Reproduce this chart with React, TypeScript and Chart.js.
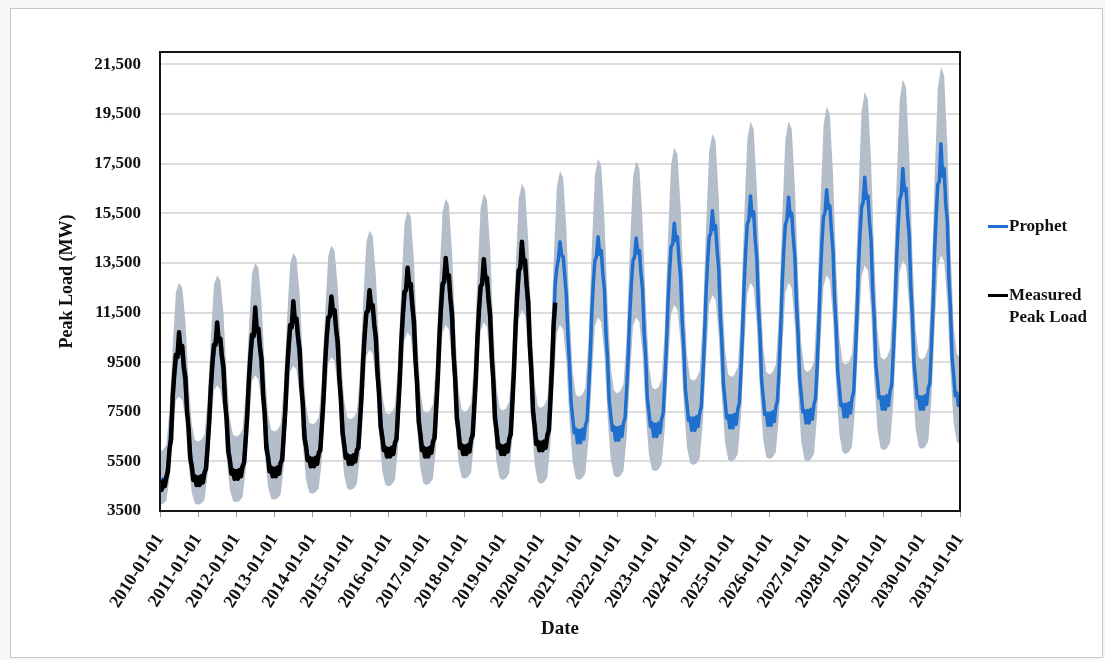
import React, { useEffect, useRef } from 'react';
import { Chart, registerables } from 'chart.js';

Chart.register(...registerables);

// ---------------- DATA ----------------
const START_YEAR = 2010;
const LINE_SAMPLES_PER_YEAR = 24; // half-monthly samples
const BAND_SAMPLES_PER_YEAR = 12; // monthly samples

const X_TICK_YEARS = [2010, 2011, 2012, 2013, 2014, 2015, 2016, 2017, 2018, 2019, 2020,
  2021, 2022, 2023, 2024, 2025, 2026, 2027, 2028, 2029, 2030, 2031];
const X_TICK_LABELS = ['2010-01-01', '2011-01-01', '2012-01-01', '2013-01-01', '2014-01-01',
  '2015-01-01', '2016-01-01', '2017-01-01', '2018-01-01', '2019-01-01', '2020-01-01',
  '2021-01-01', '2022-01-01', '2023-01-01', '2024-01-01', '2025-01-01', '2026-01-01',
  '2027-01-01', '2028-01-01', '2029-01-01', '2030-01-01', '2031-01-01'];

const Y_TICK_VALUES = [3500, 5500, 7500, 9500, 11500, 13500, 15500, 17500, 19500, 21500];
const Y_TICK_LABELS = ['3500', '5500', '7500', '9500', '11,500', '13,500', '15,500', '17,500', '19,500', '21,500'];

// Prophet forecast (MW), half-monthly from 2010-01-01 to 2031-01-01
const PROPHET = [
  4700, 4650, 4800, 4750, 4950, 5300, 6000, 7050, 7900, 8900, 9400, 9950, 10050, 9900, 9800, 9100, 8500, 7600, 6800, 5950, 5400, 4950, 4850, 4780, // 2010
  4780, 4850, 4820, 4950, 5000, 5400, 6200, 7300, 8300, 9300, 9850, 10400, 10600, 10450, 10300, 9550, 8900, 8000, 7100, 6250, 5600, 5250, 5050, 4980, // 2011
  5020, 4950, 5080, 5100, 5250, 5550, 6500, 7500, 8700, 9550, 10350, 10700, 11000, 10850, 10650, 9950, 9200, 8300, 7350, 6450, 5800, 5400, 5200, 5150, // 2012
  5150, 5100, 5250, 5250, 5400, 5800, 6650, 7800, 9000, 9900, 10700, 11100, 11350, 11250, 11050, 10300, 9550, 8700, 7650, 6800, 6100, 5700, 5500, 5450, // 2013
  5450, 5400, 5550, 5550, 5700, 6100, 7000, 8150, 9300, 10350, 11050, 11500, 11750, 11650, 11400, 10700, 9900, 8950, 7900, 7000, 6250, 5850, 5650, 5600, // 2014
  5600, 5550, 5700, 5700, 5850, 6250, 7200, 8350, 9550, 10600, 11350, 11800, 12050, 11950, 11700, 11000, 10150, 9250, 8200, 7250, 6500, 6100, 5900, 5850, // 2015
  5850, 5800, 5950, 5950, 6150, 6500, 7550, 8800, 10100, 11200, 12000, 12500, 12750, 12650, 12350, 11600, 10700, 9650, 8500, 7500, 6700, 6200, 6000, 5950, // 2016
  5950, 5900, 6050, 6050, 6250, 6650, 7700, 9000, 10300, 11450, 12300, 12800, 13050, 12950, 12650, 11850, 10900, 9850, 8650, 7600, 6800, 6300, 6050, 6000, // 2017
  6000, 5950, 6100, 6100, 6300, 6700, 7800, 9050, 10400, 11550, 12400, 12900, 13150, 13050, 12750, 11950, 11000, 9900, 8750, 7650, 6850, 6350, 6100, 6050, // 2018
  6050, 6000, 6150, 6150, 6350, 6800, 7950, 9300, 10750, 11950, 12850, 13400, 13650, 13550, 13250, 12400, 11350, 10250, 9000, 7850, 6950, 6450, 6200, 6150, // 2019
  6150, 6100, 6250, 6300, 6450, 6950, 8100, 9550, 11000, 12650, 13300, 13650, 14350, 13800, 13750, 13000, 12200, 10550, 9400, 7900, 7250, 6650, 6800, 6250, // 2020
  6750, 6250, 6800, 6400, 6950, 7150, 8300, 9700, 11400, 12700, 13600, 13750, 14550, 13850, 14000, 13050, 12400, 10600, 9600, 7950, 7350, 6750, 6900, 6350, // 2021
  6850, 6350, 6900, 6500, 7050, 7250, 8400, 9750, 11450, 12700, 13600, 13750, 14500, 13900, 14000, 13100, 12450, 10700, 9700, 8050, 7500, 6900, 7050, 6500, // 2022
  7000, 6500, 7050, 6650, 7200, 7450, 8650, 10050, 11850, 13150, 14150, 14250, 15100, 14400, 14550, 13600, 12900, 11100, 10050, 8400, 7800, 7150, 7250, 6750, // 2023
  7250, 6750, 7300, 6900, 7450, 7700, 8950, 10400, 12250, 13550, 14550, 14700, 15600, 14850, 15000, 14000, 13250, 11400, 10300, 8600, 7950, 7250, 7350, 6850, // 2024
  7350, 6850, 7400, 7000, 7600, 7850, 9150, 10700, 12600, 14000, 15050, 15250, 16200, 15400, 15550, 14450, 13700, 11750, 10600, 8800, 8100, 7400, 7450, 6950, // 2025
  7450, 6950, 7500, 7100, 7700, 7950, 9200, 10750, 12650, 14050, 15050, 15250, 16150, 15400, 15500, 14500, 13700, 11800, 10650, 8850, 8200, 7500, 7550, 7050, // 2026
  7550, 7050, 7600, 7200, 7800, 8050, 9350, 10900, 12850, 14300, 15350, 15550, 16450, 15700, 15800, 14800, 14000, 12050, 10900, 9100, 8450, 7750, 7800, 7300, // 2027
  7800, 7300, 7850, 7450, 8050, 8300, 9650, 11200, 13250, 14650, 15750, 15950, 16950, 16100, 16200, 15150, 14400, 12400, 11250, 9400, 8750, 8050, 8100, 7600, // 2028
  8100, 7600, 8150, 7750, 8350, 8600, 9950, 11500, 13550, 14950, 16050, 16250, 17300, 16400, 16500, 15400, 14600, 12550, 11350, 9500, 8800, 8050, 8100, 7600, // 2029
  8100, 7600, 8150, 7800, 8450, 8650, 10150, 11700, 13950, 15400, 16650, 16800, 18300, 17000, 17300, 15900, 15200, 12900, 11700, 9700, 9000, 8150, 8250, 7750, // 2030
  8000, // 2031-01-01
];

// Measured peak load (MW), half-monthly from 2010-01-01 to mid-May 2020
const MEASURED = [
  4650, 4350, 4700, 4500, 4850, 5100, 6000, 6400, 8100, 9050, 9800, 9700, 10700, 9900, 10150, 9300, 8900, 7550, 6850, 5650, 5300, 4750, 4900, 4550, // 2010
  4850, 4550, 4900, 4650, 5050, 5200, 6100, 7100, 8450, 9450, 10200, 10200, 11100, 10350, 10450, 9750, 9300, 7900, 7200, 5900, 5550, 5000, 5150, 4800, // 2011
  5100, 4800, 5150, 4900, 5300, 5450, 6400, 7400, 8800, 9800, 10600, 10550, 11700, 10750, 10850, 10100, 9600, 8150, 7400, 6050, 5700, 5100, 5250, 4900, // 2012
  5200, 4900, 5250, 5000, 5450, 5550, 6600, 7600, 9100, 10100, 11000, 10900, 11950, 11150, 11250, 10500, 10000, 8550, 7800, 6450, 6100, 5550, 5650, 5300, // 2013
  5600, 5300, 5650, 5400, 5850, 5950, 6950, 8000, 9450, 10500, 11300, 11350, 12150, 11500, 11600, 10800, 10300, 8800, 8000, 6650, 6200, 5650, 5750, 5400, // 2014
  5700, 5400, 5750, 5500, 5950, 6050, 7100, 8150, 9600, 10650, 11500, 11550, 12400, 11700, 11800, 11000, 10500, 9050, 8250, 6900, 6500, 5950, 6050, 5700, // 2015
  6000, 5700, 6050, 5800, 6250, 6400, 7550, 8700, 10300, 11400, 12350, 12400, 13300, 12600, 12650, 11750, 11150, 9550, 8600, 7100, 6600, 5950, 6050, 5700, // 2016
  6000, 5700, 6050, 5850, 6300, 6450, 7650, 8850, 10500, 11700, 12650, 12750, 13700, 12950, 13000, 12050, 11450, 9750, 8800, 7250, 6750, 6050, 6150, 5800, // 2017
  6100, 5800, 6150, 5900, 6400, 6550, 7700, 8850, 10500, 11650, 12550, 12650, 13650, 12850, 12900, 12000, 11400, 9700, 8750, 7250, 6750, 6050, 6150, 5800, // 2018
  6100, 5800, 6150, 5900, 6400, 6600, 7850, 9150, 10950, 12150, 13200, 13300, 14350, 13550, 13600, 12600, 11900, 10150, 9100, 7500, 6950, 6200, 6300, 5950, // 2019
  6250, 5950, 6300, 6050, 6550, 6750, 8000, 9350, 11000, 11900, // 2020 (to end of May)
];

// Uncertainty interval upper bound (MW), monthly from 2010-01-01 to 2031-01-01
const UPPER = [
  5900, 5970, 6170, 7600, 10120, 12320, 12700, 12510, 11180, 8730, 7000, 6360, // 2010
  6300, 6370, 6570, 7980, 10450, 12630, 13000, 12800, 11450, 8970, 7220, 6570, // 2011
  6500, 6570, 6780, 8250, 10840, 13100, 13500, 13300, 11860, 9280, 7450, 6770, // 2012
  6700, 6770, 6990, 8500, 11160, 13480, 13900, 13690, 12230, 9620, 7760, 7070, // 2013
  7000, 7070, 7290, 8800, 11460, 13780, 14200, 13990, 12500, 9860, 7970, 7270, // 2014
  7200, 7280, 7500, 9100, 11910, 14340, 14800, 14580, 12980, 10210, 8210, 7470, // 2015
  7400, 7480, 7730, 9450, 12480, 15080, 15600, 15360, 13560, 10550, 8350, 7530, // 2016
  7450, 7540, 7800, 9610, 12810, 15540, 16100, 15840, 13920, 10770, 8450, 7590, // 2017
  7500, 7590, 7850, 9700, 12960, 15720, 16300, 16040, 14080, 10880, 8510, 7640, // 2018
  7550, 7640, 7920, 9840, 13220, 16090, 16700, 16430, 14390, 11090, 8650, 7740, // 2019
  7650, 7750, 8030, 10040, 13570, 16550, 17200, 16930, 14870, 11560, 9100, 8190, // 2020
  8100, 8200, 8480, 10500, 14050, 17040, 17700, 17420, 15270, 11840, 9290, 8350, // 2021
  8250, 8340, 8620, 10590, 14050, 16970, 17600, 17320, 15240, 11900, 9410, 8490, // 2022
  8400, 8500, 8790, 10840, 14450, 17480, 18150, 17870, 15730, 12320, 9780, 8840, // 2023
  8750, 8850, 9150, 11240, 14920, 18010, 18700, 18410, 16160, 12620, 9980, 9000, // 2024
  8900, 9000, 9310, 11480, 15290, 18470, 19200, 18890, 16540, 12880, 10120, 9100, // 2025
  9000, 9100, 9410, 11550, 15320, 18480, 19200, 18900, 16570, 12940, 10210, 9200, // 2026
  9100, 9210, 9530, 11780, 15730, 19030, 19800, 19490, 17080, 13350, 10540, 9500, // 2027
  9400, 9510, 9840, 12150, 16220, 19600, 20400, 20080, 17560, 13700, 10790, 9710, // 2028
  9600, 9710, 10050, 12430, 16610, 20070, 20900, 20560, 17910, 13890, 10840, 9710, // 2029
  9600, 9720, 10070, 12550, 16920, 20520, 21400, 21050, 18290, 14150, 10990, 9820, // 2030
  9700, // 2031-01-01
];

// Uncertainty interval lower bound (MW), monthly from 2010-01-01 to 2031-01-01
const LOWER = [
  3750, 3790, 3920, 4840, 6450, 7970, 8100, 7970, 7200, 5400, 4230, 3790, // 2010
  3750, 3800, 3940, 4950, 6730, 8370, 8550, 8410, 7540, 5640, 4370, 3900, // 2011
  3850, 3900, 4050, 5130, 7010, 8740, 8950, 8800, 7850, 5850, 4500, 4000, // 2012
  3950, 4000, 4170, 5300, 7300, 9110, 9350, 9200, 8210, 6160, 4770, 4250, // 2013
  4200, 4260, 4420, 5580, 7610, 9450, 9700, 9540, 8500, 6380, 4940, 4400, // 2014
  4350, 4410, 4580, 5760, 7850, 9740, 10000, 9840, 8750, 6590, 5110, 4560, // 2015
  4500, 4560, 4750, 6050, 8340, 10380, 10700, 10520, 9260, 6890, 5230, 4610, // 2016
  4550, 4620, 4810, 6160, 8550, 10660, 11000, 10810, 9540, 7160, 5480, 4860, // 2017
  4800, 4860, 5050, 6380, 8710, 10770, 11100, 10910, 9600, 7160, 5450, 4810, // 2018
  4750, 4820, 5020, 6460, 9000, 11220, 11600, 11390, 9900, 7260, 5370, 4670, // 2019
  4600, 4660, 4860, 6200, 8570, 10660, 11000, 10810, 9530, 7130, 5440, 4810, // 2020
  4750, 4820, 5010, 6390, 8810, 10950, 11300, 11110, 9770, 7300, 5560, 4920, // 2021
  4850, 4920, 5110, 6460, 8850, 10960, 11300, 11110, 9840, 7460, 5780, 5160, // 2022
  5100, 5170, 5370, 6780, 9250, 11430, 11800, 11610, 10270, 7800, 6060, 5420, // 2023
  5350, 5420, 5620, 7060, 9600, 11820, 12200, 12000, 10590, 8050, 6240, 5570, // 2024
  5500, 5570, 5790, 7300, 9960, 12280, 12700, 12490, 10970, 8300, 6380, 5670, // 2025
  5600, 5670, 5880, 7380, 10000, 12290, 12700, 12480, 10940, 8240, 6290, 5570, // 2026
  5500, 5580, 5800, 7380, 10150, 12550, 13000, 12780, 11240, 8540, 6590, 5870, // 2027
  5800, 5880, 6100, 7700, 10510, 12940, 13400, 13180, 11570, 8780, 6770, 6030, // 2028
  5950, 6030, 6260, 7860, 10690, 13140, 13600, 13370, 11720, 8890, 6840, 6080, // 2029
  6000, 6080, 6310, 7950, 10840, 13320, 13800, 13570, 11920, 9090, 7040, 6280, // 2030
  6200, // 2031-01-01
];

// ---------------- STYLE ----------------
const FONT = "'Liberation Serif', 'Times New Roman', serif";
const BLUE = '#1f6fce';
const BLACK = '#000000';
const BAND = '#b4becb';
const TEXT = '#111111';

const toPoints = (vals: number[], perYear: number) =>
  vals.map((y, i) => ({ x: START_YEAR + i / perYear, y }));

const framePlugin = {
  id: 'plotFrame',
  afterDatasetsDraw(chart: any) {
    const { ctx, chartArea: a } = chart;
    ctx.save();
    ctx.strokeStyle = '#151515';
    ctx.lineWidth = 2;
    ctx.strokeRect(a.left, a.top, a.right - a.left, a.bottom - a.top);
    ctx.restore();
  },
};

export default function App() {
  const canvasRef = useRef<HTMLCanvasElement | null>(null);

  useEffect(() => {
    if (!canvasRef.current) return;
    const chart = new Chart(canvasRef.current, {
      type: 'line',
      data: {
        datasets: [
          {
            label: 'Measured Peak Load',
            data: toPoints(MEASURED, LINE_SAMPLES_PER_YEAR),
            borderColor: BLACK,
            borderWidth: 4.5,
            pointRadius: 0,
            fill: false,
          },
          {
            label: 'Prophet',
            data: toPoints(PROPHET, LINE_SAMPLES_PER_YEAR),
            borderColor: BLUE,
            borderWidth: 3.5,
            pointRadius: 0,
            fill: false,
          },
          {
            label: 'Upper',
            data: toPoints(UPPER, BAND_SAMPLES_PER_YEAR),
            borderColor: 'rgba(0,0,0,0)',
            borderWidth: 0,
            pointRadius: 0,
            backgroundColor: BAND,
            fill: '+1',
          },
          {
            label: 'Lower',
            data: toPoints(LOWER, BAND_SAMPLES_PER_YEAR),
            borderColor: 'rgba(0,0,0,0)',
            borderWidth: 0,
            pointRadius: 0,
            fill: false,
          },
        ],
      },
      options: {
        responsive: false,
        animation: false,
        events: [],
        elements: { line: { tension: 0, borderJoinStyle: 'round' } },
        layout: { padding: { left: 40, top: 52, right: 145, bottom: 20 } },
        plugins: { legend: { display: false }, tooltip: { enabled: false } },
        scales: {
          x: {
            type: 'linear',
            min: 2010,
            max: 2031,
            afterBuildTicks: (s: any) => {
              s.ticks = X_TICK_YEARS.map((v) => ({ value: v }));
            },
            afterFit: (s: any) => {
              s.height = 129;
            },
            ticks: {
              autoSkip: false,
              minRotation: 57,
              maxRotation: 57,
              padding: 13,
              color: TEXT,
              font: { family: FONT, size: 18, weight: 'bold' },
              callback: (v: any) => X_TICK_LABELS[X_TICK_YEARS.indexOf(Number(v))],
            },
            grid: { drawOnChartArea: false, drawTicks: true, tickLength: 6, color: '#9a9a9a' },
            border: { display: false },
            title: {
              display: true,
              text: 'Date',
              color: TEXT,
              font: { family: FONT, size: 19, weight: 'bold' },
              padding: { top: 0, bottom: 0 },
            },
          },
          y: {
            type: 'linear',
            min: 3500,
            max: 22000,
            afterBuildTicks: (s: any) => {
              s.ticks = Y_TICK_VALUES.map((v) => ({ value: v }));
            },
            afterFit: (s: any) => {
              s.width = 120;
            },
            ticks: {
              padding: 19,
              color: TEXT,
              font: { family: FONT, size: 17, weight: 'bold' },
              callback: (v: any) => Y_TICK_LABELS[Y_TICK_VALUES.indexOf(Number(v))],
            },
            grid: { color: '#dcdcdc', lineWidth: 2, drawTicks: false },
            border: { display: false },
            title: {
              display: true,
              text: 'Peak Load (MW)',
              color: TEXT,
              font: { family: FONT, size: 18, weight: 'bold' },
              padding: { top: 17, bottom: 0 },
            },
          },
        },
      },
      plugins: [framePlugin],
    } as any);
    return () => chart.destroy();
  }, []);

  const legendText: React.CSSProperties = {
    position: 'absolute',
    left: 1009,
    fontFamily: FONT,
    fontWeight: 'bold',
    fontSize: 17,
    lineHeight: '22px',
    color: TEXT,
    whiteSpace: 'nowrap',
  };

  return (
    <div style={{ position: 'fixed', left: 0, top: 0, width: 1105, height: 660, background: '#f6f6f6', overflow: 'hidden' }}>
      <div style={{ position: 'absolute', left: 10, top: 8, width: 1091, height: 648, border: '1px solid #c6c6c6', background: '#ffffff' }} />
      <canvas ref={canvasRef} width={1105} height={660} style={{ position: 'absolute', left: 0, top: 0 }} />
      <div style={{ position: 'absolute', left: 988, top: 225, width: 20, height: 2.5, background: BLUE }} />
      <div style={{ ...legendText, top: 215 }}>Prophet</div>
      <div style={{ position: 'absolute', left: 988, top: 294, width: 20, height: 2.5, background: BLACK }} />
      <div style={{ ...legendText, top: 284 }}>
        Measured
        <br />
        Peak Load
      </div>
    </div>
  );
}
